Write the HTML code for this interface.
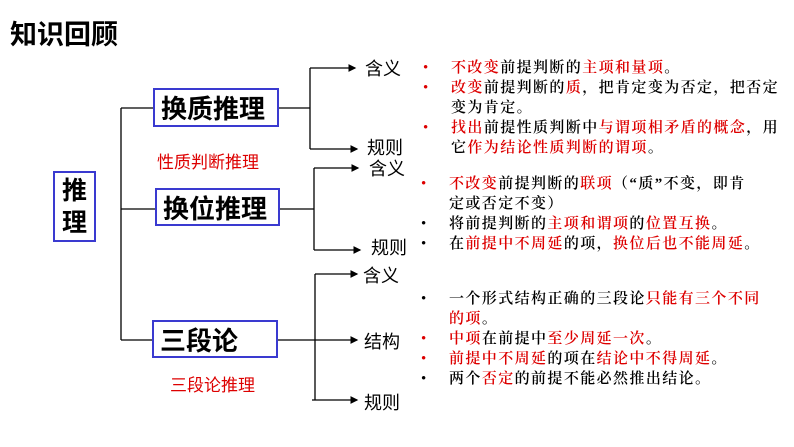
<!DOCTYPE html>
<html><head><meta charset="utf-8"><style>
body{margin:0;width:794px;height:447px;background:#fff;position:relative;overflow:hidden;font-family:"Liberation Sans","Noto Sans CJK SC",sans-serif}
.a{position:absolute;white-space:nowrap}
.box{position:absolute;border:2px solid #3a3ad0;box-sizing:border-box;font-weight:bold;font-size:26px;color:#000;display:flex;align-items:center;padding-left:6px}
.lbl{position:absolute;font-size:18px;color:#000}
.t{position:absolute;left:423px;font-family:"Liberation Serif","Noto Serif CJK SC",serif;font-size:15px;font-weight:600;letter-spacing:1.4px;line-height:20px;color:#000;white-space:nowrap}
.t i{font-style:normal;color:#d00}
.t b{font-weight:normal;display:inline-block;width:28px}
.r{color:#d00}
</style></head><body>
<div class="a" style="left:10px;top:13px;font-size:27px;font-weight:bold">知识回顾</div>
<div class="box" style="left:53px;top:171px;width:43px;height:71px;font-size:25px;line-height:32px;padding-left:7px">推<br>理</div>
<div class="box" style="left:153px;top:88px;width:126px;height:39px">换质推理</div>
<div class="box" style="left:155px;top:188px;width:125px;height:38px">换位推理</div>
<div class="box" style="left:152px;top:320px;width:126px;height:38px">三段论</div>
<div class="a r" style="left:157px;top:148px;font-size:17px">性质判断推理</div>
<div class="a r" style="left:170px;top:371px;font-size:17px">三段论推理</div>
<svg class="a" style="left:0;top:0" width="794" height="447">
<defs><marker id="m" markerWidth="6" markerHeight="6" refX="5" refY="3" orient="auto"><path d="M0,0L6,3L0,6z" fill="#000"/></marker></defs>
<g stroke="#000" stroke-width="1.3" fill="none">
<path d="M121,108V340M121,108H153M121,209H155M121,340H152"/>
<path d="M279,108H310M310,68V149"/><path d="M310,68H355" marker-end="url(#m)"/><path d="M310,149H357" marker-end="url(#m)"/>
<path d="M280,209H314M314,168V250"/><path d="M314,168H358" marker-end="url(#m)"/><path d="M314,250H360" marker-end="url(#m)"/>
<path d="M278,340H315M315,274V400"/><path d="M315,274H357" marker-end="url(#m)"/><path d="M315,340H357" marker-end="url(#m)"/><path d="M312,400H357" marker-end="url(#m)"/>
</g></svg>
<div class="lbl" style="left:365px;top:55px">含义</div>
<div class="lbl" style="left:367px;top:134px">规则</div>
<div class="lbl" style="left:369px;top:155px">含义</div>
<div class="lbl" style="left:371px;top:234px">规则</div>
<div class="lbl" style="left:363px;top:262px">含义</div>
<div class="lbl" style="left:364px;top:328px">结构</div>
<div class="lbl" style="left:364px;top:389px">规则</div>
<div class="t" style="top:58px"><b class="r">•</b><i>不改变</i>前提判断的<i>主项和量项</i>。<br><b class="r">•</b><i>改变</i>前提判断的<i>质</i>，把肯定变为否定，把否定<br><b></b>变为肯定。<br><b class="r">•</b><i>找出</i>前提性质判断中<i>与谓项相矛盾的概念</i>，用<br><b></b>它<i>作为结论性质判断的谓项</i>。</div>
<div class="t" style="top:174px;left:421px"><b class="r">•</b><i>不改变</i>前提判断的<i>联项</i>（“质”不变，即肯<br><b></b>定或否定不变）<br><b>•</b>将前提判断的<i>主项和谓项</i>的<i>位置互换</i>。<br><b>•</b>在<i>前提中不周延</i>的项，<i>换位后也不能周延</i>。</div>
<div class="t" style="top:289px;left:421px"><b>•</b>一个形式结构正确的三段论<i>只能有三个不同</i><br><b></b><i>的项</i>。<br><b class="r">•</b><i>中项</i>在前提中<i>至少周延一次</i>。<br><b class="r">•</b><i>前提中不周延</i>的项在<i>结论中不得周延</i>。<br><b>•</b>两个<i>否定</i>的前提不能必然推出结论。</div>
</body></html>
